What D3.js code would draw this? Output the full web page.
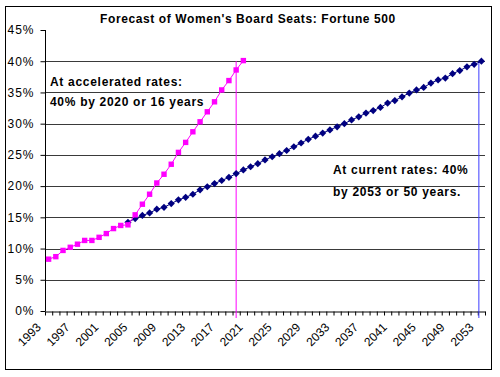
<!DOCTYPE html>
<html>
<head>
<meta charset="utf-8">
<script src="https://cdn.jsdelivr.net/npm/d3@7"></script>
<style>
  body { margin: 0; background: #fff; }
  svg { display: block; font-family: Arial, "Liberation Sans", sans-serif; }
</style>
</head>
<body>
<div id="chart"></div>
<script>
// data
const firstYear = 1993, lastYear = 2053;
const years = d3.range(firstYear, lastYear + 1);

const accelStart = 1993;
const accelValues = [8.3, 8.7, 9.7, 10.2, 10.7, 11.3, 11.3, 11.8, 12.4, 13.2, 13.7, 13.8,
  15.4, 17.1, 18.7, 20.5, 21.9, 23.5, 25.4, 27.0, 28.7, 30.3, 31.9, 33.5, 35.4, 36.9, 38.6, 40.1];

const currentStart = 2004;
const currentValues = [14.2, 14.8, 15.3, 15.7, 16.3, 16.6, 17.2, 17.8, 18.2, 18.7,
  19.4, 19.9, 20.4, 20.9, 21.4, 22.0, 22.6, 23.1, 23.6, 24.2,
  24.7, 25.2, 25.7, 26.3, 26.9, 27.5, 28.0, 28.5, 29.0, 29.5,
  30.0, 30.6, 31.1, 31.7, 32.1, 32.6, 33.3, 33.7, 34.3, 34.9,
  35.4, 35.8, 36.5, 37.0, 37.3, 38.0, 38.5, 39.1, 39.5, 40.0];

const yTicks = [0, 5, 10, 15, 20, 25, 30, 35, 40, 45];
const gridValues = [5, 10, 15, 20, 25, 30, 35, 40];
const xTickLabels = ["1993","1997","2001","2005","2009","2013","2017","2021",
  "2025","2029","2033","2037","2041","2045","2049","2053"];

// target marker lines (year position, value reached)
const accelTarget = {year: 2019, value: 40};
const currentTarget = {year: 2052.65, value: 40};

const width = 500, height = 377, margin = {top: 30, right: 15, bottom: 66, left: 45};
const innerWidth = width - margin.left - margin.right;
const innerHeight = height - margin.top - margin.bottom;

const svg = d3.select("#chart")
  .append("svg")
  .attr("width", width)
  .attr("height", height);

// chart frame
svg.append("rect")
  .attr("x", 5.5).attr("y", 6.5)
  .attr("width", 486).attr("height", 363)
  .attr("fill", "#fff")
  .attr("stroke", "#000");

const g = svg.append("g").attr("transform", `translate(${margin.left},${margin.top})`);

const x = d3.scaleBand().domain(years).range([0, innerWidth]).padding(0);
const xc = yr => x(yr) + x.bandwidth() / 2;
const xYear = d3.scaleLinear().domain([firstYear - 0.5, lastYear + 0.5]).range([0, innerWidth]);
const y = d3.scaleLinear().domain([0, 45]).range([innerHeight, 0]);

// gridlines
g.append("g")
  .selectAll("line")
  .data(gridValues)
  .join("line")
    .attr("x1", 0).attr("x2", innerWidth)
    .attr("y1", d => Math.round(y(d)) + 0.5)
    .attr("y2", d => Math.round(y(d)) + 0.5)
    .attr("stroke", "#3a3a3a");

// y axis
const yAxis = d3.axisLeft(y).tickValues(yTicks).tickSize(5).tickPadding(6).tickFormat(d => d + "%");
g.append("g")
  .attr("transform", "translate(0.5,0)")
  .call(yAxis)
  .call(s => s.select(".domain").attr("d", `M0,${y(45)}V${innerHeight}`))
  .call(s => s.selectAll("text").style("font-size", "12px").style("letter-spacing", "1px").attr("fill", "#000"));

// x axis: ticks on category boundaries
const xAxis = d3.axisBottom(xYear)
  .tickValues(d3.range(firstYear - 0.5, lastYear + 1, 1))
  .tickSize(4)
  .tickSizeOuter(0)
  .tickFormat("");
g.append("g")
  .attr("transform", `translate(0,${innerHeight + 0.5})`)
  .call(xAxis);

g.append("g")
  .selectAll("text")
  .data(xTickLabels)
  .join("text")
    .attr("transform", d => `translate(${xc(+d) - 7},${innerHeight + 17}) rotate(-45)`)
    .attr("text-anchor", "end")
    .style("font-size", "12px")
    .text(d => d);

// target lines
g.append("line")
  .attr("x1", xYear(accelTarget.year)).attr("x2", xYear(accelTarget.year))
  .attr("y1", y(accelTarget.value)).attr("y2", innerHeight + 7)
  .attr("stroke", "#ff00ff");
g.append("line")
  .attr("x1", xYear(currentTarget.year)).attr("x2", xYear(currentTarget.year))
  .attr("y1", y(currentTarget.value)).attr("y2", innerHeight + 7)
  .attr("stroke", "#3c3cff");

const accel = accelValues.map((v, i) => ({year: accelStart + i, v}));
const current = currentValues.map((v, i) => ({year: currentStart + i, v}));
const line = d3.line().x(d => xc(d.year)).y(d => y(d.v));

// current rates series
g.append("path").datum(current)
  .attr("fill", "none").attr("stroke", "#000080").attr("stroke-width", 1)
  .attr("d", line);
g.append("g").selectAll("path")
  .data(current)
  .join("path")
    .attr("transform", d => `translate(${xc(d.year)},${y(d.v)})`)
    .attr("d", "M0,-3.6L3.6,0L0,3.6L-3.6,0Z")
    .attr("fill", "#000080");

// accelerated series
g.append("path").datum(accel)
  .attr("fill", "none").attr("stroke", "#ff00ff").attr("stroke-width", 1)
  .attr("d", line);
g.append("g").selectAll("rect")
  .data(accel)
  .join("rect")
    .attr("x", d => xc(d.year) - 2.7)
    .attr("y", d => y(d.v) - 2.7)
    .attr("width", 5.4).attr("height", 5.4)
    .attr("fill", "#ff00ff");

// title
svg.append("text")
  .attr("x", 248).attr("y", 23)
  .attr("text-anchor", "middle")
  .style("font-size", "12px")
  .style("font-weight", "bold")
  .style("letter-spacing", "0.6px")
  .text("Forecast of Women's Board Seats: Fortune 500");

// annotations
const note = (tx, ty, txt) => svg.append("text")
  .attr("x", tx).attr("y", ty)
  .style("font-size", "12px")
  .style("font-weight", "bold")
  .style("letter-spacing", "0.7px")
  .text(txt);
note(50, 86, "At accelerated rates:");
note(50, 106, "40% by 2020 or 16 years");
note(333, 174, "At current rates: 40%");
note(333, 196, "by 2053 or 50 years.");
</script>
</body>
</html>
